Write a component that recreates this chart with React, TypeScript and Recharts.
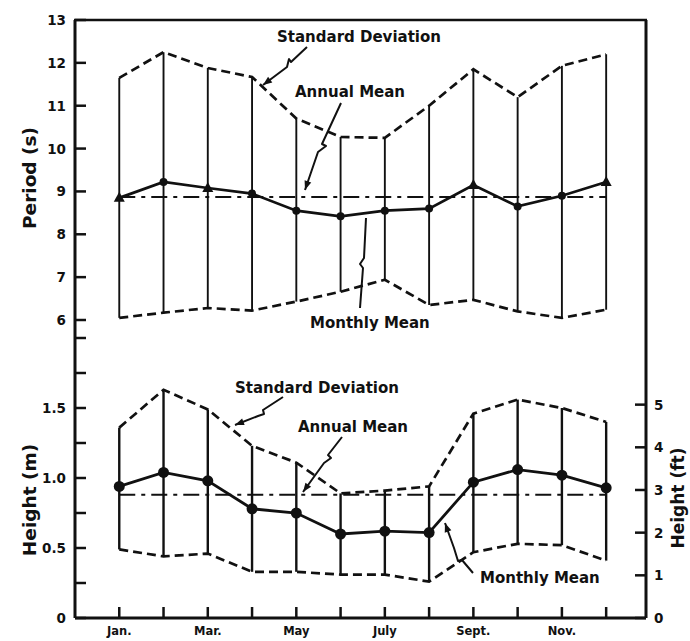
import { ComposedChart, ErrorBar, Line, XAxis, YAxis } from "recharts"

const months = [1, 2, 3, 4, 5, 6, 7, 8, 9, 10, 11, 12]
const monthLabels = ["Jan.", "", "Mar.", "", "May", "", "July", "", "Sept.", "", "Nov.", ""]

const periodTicks = [6, 7, 8, 9, 10, 11, 12, 13]
const heightTicks = [0, 0.25, 0.5, 0.75, 1, 1.25, 1.5, 1.75, 2]
const heightTickLabels = ["0", "", "0.5", "", "1.0", "", "1.5", "", ""]
const feetTicks = [0, 1, 2, 3, 4, 5]

const periodMean = [8.85, 9.22, 9.08, 8.95, 8.55, 8.42, 8.55, 8.6, 9.15, 8.65, 8.9, 9.22]
const periodUpper = [11.65, 12.25, 11.88, 11.67, 10.7, 10.27, 10.25, 11.0, 11.85, 11.2, 11.93, 12.2]
const periodLower = [6.05, 6.17, 6.28, 6.22, 6.43, 6.66, 6.94, 6.35, 6.47, 6.2, 6.05, 6.24]
const periodAnnualMean = 8.87

const heightMean = [0.94, 1.04, 0.98, 0.78, 0.75, 0.6, 0.62, 0.61, 0.97, 1.06, 1.02, 0.93]
const heightUpper = [1.36, 1.63, 1.49, 1.23, 1.11, 0.89, 0.91, 0.94, 1.46, 1.56, 1.5, 1.4]
const heightLower = [0.49, 0.44, 0.46, 0.33, 0.33, 0.31, 0.31, 0.26, 0.47, 0.53, 0.52, 0.41]
const heightAnnualMean = 0.88

// months drawn with a triangle instead of a dot in the period panel
const triangleMonths = [1, 3, 9, 12]

const FT_PER_M = 1 / 0.3048
const INK = "#111"
const FONT = "DejaVu Sans"

const periodData = months.map((m, i) => ({
  m,
  mean: periodMean[i],
  upper: periodUpper[i],
  lower: periodLower[i],
  annual: periodAnnualMean,
  err: [periodMean[i] - periodLower[i], periodUpper[i] - periodMean[i]],
}))

const heightData = months.map((m, i) => ({
  m,
  mean: heightMean[i],
  upper: heightUpper[i],
  lower: heightLower[i],
  annual: heightAnnualMean,
  err: [heightMean[i] - heightLower[i], heightUpper[i] - heightMean[i]],
}))

const X_DOMAIN: [number, number] = [0, 12.9]
const M_TOP = 298 / 140

function LeftTick(props: any) {
  const { x, y, payload, labels, values } = props
  const idx = values ? values.indexOf(payload.value) : -1
  const label = labels ? labels[idx] : String(payload.value)
  return (
    <g>
      <line x1={x} x2={x + 11} y1={y} y2={y} stroke={INK} strokeWidth={2.5} />
      {label ? (
        <text x={x - 9} y={y + 5} textAnchor="end" fontFamily={FONT} fontWeight="bold" fontSize={13.5} fill={INK}>
          {label}
        </text>
      ) : null}
    </g>
  )
}

function RightTick(props: any) {
  const { x, y, payload } = props
  return (
    <g>
      <line x1={x - 11} x2={x} y1={y} y2={y} stroke={INK} strokeWidth={2.5} />
      <text x={x + 8} y={y + 5} textAnchor="start" fontFamily={FONT} fontWeight="bold" fontSize={13.5} fill={INK}>
        {payload.value}
      </text>
    </g>
  )
}

function MonthTick(props: any) {
  const { x, y, payload } = props
  const label = monthLabels[payload.value - 1]
  return (
    <g>
      <line x1={x} x2={x} y1={y} y2={y - 11} stroke={INK} strokeWidth={2.5} />
      {label ? (
        <text x={x} y={y + 17} textAnchor="middle" fontFamily={FONT} fontWeight="bold" fontSize={11.5} fill={INK}>
          {label}
        </text>
      ) : null}
    </g>
  )
}

function PeriodDot(props: any) {
  const { cx, cy, payload } = props
  if (cx == null || cy == null) return <g />
  if (triangleMonths.includes(payload.m)) {
    return <path d={`M${cx},${cy - 6} L${cx + 5.5},${cy + 4} L${cx - 5.5},${cy + 4} Z`} fill={INK} />
  }
  return <circle cx={cx} cy={cy} r={4} fill={INK} />
}

function HeightDot(props: any) {
  const { cx, cy } = props
  if (cx == null || cy == null) return <g />
  return <circle cx={cx} cy={cy} r={5.5} fill={INK} />
}

function Leader({ pts, arrow = true }: { pts: number[][]; arrow?: boolean }) {
  const d = pts.map((p, i) => `${i ? "L" : "M"}${p[0]},${p[1]}`).join(" ")
  const [ax, ay] = pts[pts.length - 1]
  const [bx, by] = pts[pts.length - 2]
  const ang = Math.atan2(ay - by, ax - bx)
  const len = 9
  const w = 3.5
  const hx = ax - len * Math.cos(ang)
  const hy = ay - len * Math.sin(ang)
  const head = `M${ax},${ay} L${hx + w * Math.sin(ang)},${hy - w * Math.cos(ang)} L${hx - w * Math.sin(ang)},${hy + w * Math.cos(ang)} Z`
  return (
    <g>
      <path d={d} fill="none" stroke={INK} strokeWidth={2} strokeLinejoin="round" />
      {arrow ? <path d={head} fill={INK} /> : null}
    </g>
  )
}

const noteStyle = { fontFamily: FONT, fontWeight: "bold" as const, fontSize: 15, fill: INK }
const titleStyle = { fontFamily: FONT, fontWeight: "bold" as const, fontSize: 18.5, fill: INK }

const axisLine = { stroke: INK, strokeWidth: 3 }
const dashed = { stroke: INK, strokeWidth: 2.7, strokeDasharray: "9 5" }

export default function App() {
  return (
    <div style={{ position: "absolute", left: 0, top: 0, width: 690, height: 641, background: "#fff" }}>
      <div style={{ position: "absolute", left: 0, top: 0 }}>
        <ComposedChart width={690} height={641} data={periodData} margin={{ top: 20, right: 0, bottom: 321, left: 0 }}>
          <XAxis
            dataKey="m"
            type="number"
            domain={X_DOMAIN}
            orientation="top"
            height={0}
            tick={false}
            tickLine={false}
            axisLine={{ stroke: INK, strokeWidth: 2.5 }}
          />
          <YAxis
            yAxisId="p"
            domain={[6, 13]}
            ticks={periodTicks}
            interval={0}
            width={75}
            tickSize={0}
            tickMargin={0}
            tickLine={false}
            tick={<LeftTick />}
            axisLine={axisLine}
            allowDataOverflow
          />
          <YAxis yAxisId="r" orientation="right" domain={[6, 13]} width={44} tick={false} tickLine={false} axisLine={axisLine} />
          <Line yAxisId="p" dataKey="upper" {...dashed} dot={false} isAnimationActive={false} />
          <Line yAxisId="p" dataKey="lower" {...dashed} dot={false} isAnimationActive={false} />
          <Line yAxisId="p" dataKey="annual" stroke={INK} strokeWidth={2} strokeDasharray="16 6 4 6" dot={false} isAnimationActive={false} />
          <Line yAxisId="p" dataKey="mean" stroke={INK} strokeWidth={2.7} dot={<PeriodDot />} isAnimationActive={false}>
            <ErrorBar dataKey="err" width={0} stroke={INK} strokeWidth={1.9} direction="y" />
          </Line>
        </ComposedChart>
      </div>
      <div style={{ position: "absolute", left: 0, top: 0 }}>
        <ComposedChart width={690} height={641} data={heightData} margin={{ top: 320, right: 0, bottom: 0, left: 0 }}>
          <XAxis
            dataKey="m"
            type="number"
            domain={X_DOMAIN}
            ticks={months}
            interval={0}
            height={23}
            tickSize={0}
            tickMargin={0}
            tickLine={false}
            tick={<MonthTick />}
            axisLine={axisLine}
          />
          <YAxis
            yAxisId="h"
            domain={[0, M_TOP]}
            ticks={heightTicks}
            interval={0}
            width={75}
            tickSize={0}
            tickMargin={0}
            tickLine={false}
            tick={<LeftTick labels={heightTickLabels} values={heightTicks} />}
            axisLine={axisLine}
            allowDataOverflow
          />
          <YAxis
            yAxisId="ft"
            orientation="right"
            domain={[0, M_TOP * FT_PER_M]}
            ticks={feetTicks}
            interval={0}
            width={44}
            tickSize={0}
            tickMargin={0}
            tickLine={false}
            tick={<RightTick />}
            axisLine={axisLine}
            allowDataOverflow
          />
          <Line yAxisId="h" dataKey="upper" {...dashed} dot={false} isAnimationActive={false} />
          <Line yAxisId="h" dataKey="lower" {...dashed} dot={false} isAnimationActive={false} />
          <Line yAxisId="h" dataKey="annual" stroke={INK} strokeWidth={2} strokeDasharray="16 6 4 6" dot={false} isAnimationActive={false} />
          <Line yAxisId="h" dataKey="mean" stroke={INK} strokeWidth={2.8} dot={<HeightDot />} isAnimationActive={false}>
            <ErrorBar dataKey="err" width={0} stroke={INK} strokeWidth={2.4} direction="y" />
          </Line>
        </ComposedChart>
      </div>
      <svg width={690} height={641} style={{ position: "absolute", left: 0, top: 0, pointerEvents: "none" }}>
        {/* frame top edge */}
        <line x1={74} x2={647} y1={20} y2={20} stroke={INK} strokeWidth={2.5} />

        <text x={30} y={178} transform="rotate(-90 30 178)" textAnchor="middle" dy={6} {...titleStyle}>Period (s)</text>
        <text x={30} y={500} transform="rotate(-90 30 500)" textAnchor="middle" dy={6} {...titleStyle}>Height (m)</text>
        <text x={678} y={498} transform="rotate(-90 678 498)" textAnchor="middle" dy={6} {...titleStyle} fontSize={17}>Height (ft)</text>

        <text x={277} y={42} {...noteStyle}>Standard Deviation</text>
        <Leader pts={[[307, 47], [291, 62], [289, 59], [287, 67], [263, 85]]} />
        <text x={295} y={97} {...noteStyle}>Annual Mean</text>
        <Leader pts={[[341, 103], [322, 144], [326, 146], [318, 152], [305, 190]]} />
        <text x={310} y={328} {...noteStyle}>Monthly Mean</text>
        <Leader pts={[[360, 308], [363, 268], [360, 264], [364, 258], [366, 218]]} arrow={false} />

        <text x={235} y={393} {...noteStyle}>Standard Deviation</text>
        <Leader pts={[[283, 397], [263, 410], [264, 414], [258, 416], [235, 425]]} />
        <text x={298} y={432} {...noteStyle}>Annual Mean</text>
        <Leader pts={[[342, 437], [328, 455], [331, 458], [324, 463], [303, 492]]} />
        <text x={480} y={583} {...noteStyle}>Monthly Mean</text>
        <Leader pts={[[473, 573], [462, 560], [458, 561], [454, 548], [445, 523]]} />
      </svg>
    </div>
  )
}
